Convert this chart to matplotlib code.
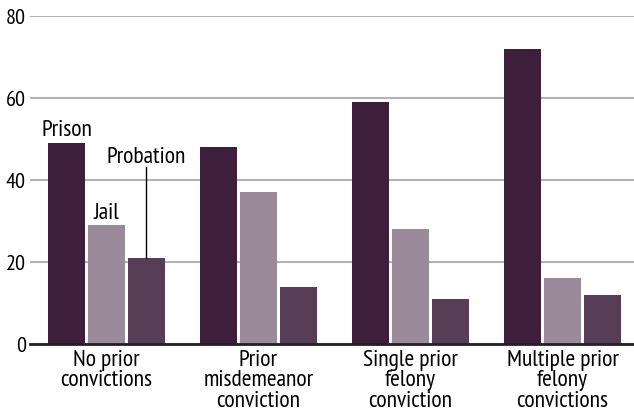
import numpy as np
import matplotlib
matplotlib.use("Agg")
import matplotlib.pyplot as plt

plt.rcParams['font.family'] = ['PT Sans Narrow', 'DejaVu Sans']

categories = ["No prior\nconvictions", "Prior\nmisdemeanor\nconviction",
              "Single prior\nfelony\nconviction", "Multiple prior\nfelony\nconvictions"]
prison = [49, 48, 59, 72]
jail = [29, 37, 28, 16]
probation = [21, 14, 11, 12]
yticks = [0, 20, 40, 60, 80]

c_prison = '#3d1f3b'
c_jail = '#9a8a9a'
c_prob = '#573d55'

fig = plt.figure(figsize=(6.34, 4.15), dpi=100)
ax = fig.add_axes([30 / 634, 71 / 415, 604 / 634, 328 / 415])

x = np.arange(len(categories))
w = 0.243
off = 0.263
ax.bar(x - off, prison, w, color=c_prison, zorder=3)
ax.bar(x, jail, w, color=c_jail, zorder=3)
ax.bar(x + off, probation, w, color=c_prob, zorder=3)

fs = 17
ax.set_xlim(-0.503, 3.47)
ax.set_ylim(0, 80)
ax.set_yticks(yticks)
ax.set_yticklabels([str(v) for v in yticks], fontsize=16)
ax.tick_params(axis='y', length=0, pad=3)
ax.yaxis.grid(True, color='#b3b3b3', linewidth=1.5, zorder=0)
ax.set_xticks(x)
ax.set_xticklabels(categories, fontsize=fs, linespacing=0.98, va='top')
ax.tick_params(axis='x', length=0, pad=4)
for s in ['top', 'right', 'left']:
    ax.spines[s].set_visible(False)
ax.spines['bottom'].set_color('#222222')
ax.spines['bottom'].set_linewidth(2)
ax.spines['bottom'].set_zorder(4)
for lbl in ax.get_yticklabels():
    lbl.set_clip_on(False)

# series labels on the first group
ax.text(x[0] - off, 50.7, "Prison", ha='center', va='baseline', fontsize=fs)
ax.text(x[0], 30.5, "Jail", ha='center', va='baseline', fontsize=fs)
ax.text(x[0] + off, 44.2, "Probation", ha='center', va='baseline', fontsize=fs)
ax.plot([x[0] + off, x[0] + off], [probation[0], 43.2], color='black', linewidth=1, zorder=4)

fig.savefig("out.png", dpi=100)
